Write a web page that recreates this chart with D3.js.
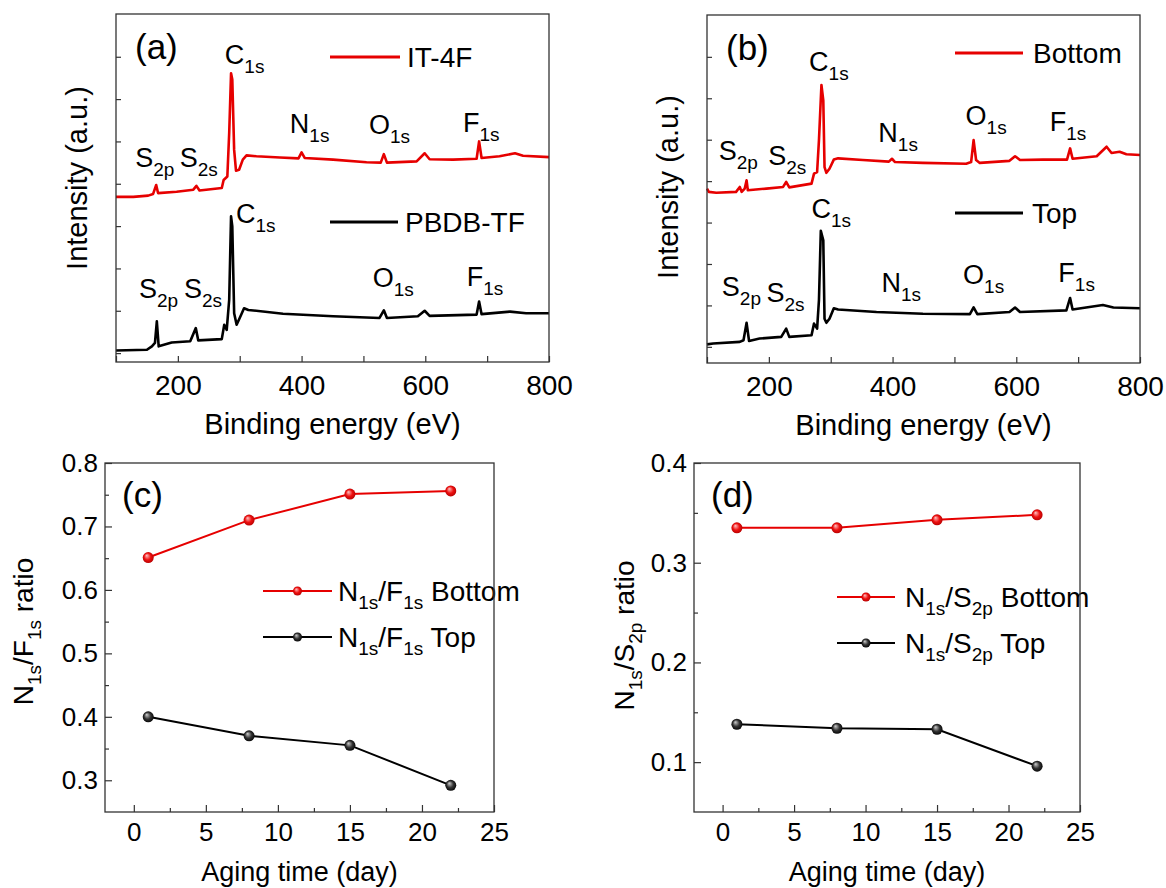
<!DOCTYPE html>
<html>
<head>
<meta charset="utf-8">
<script src="https://cdn.jsdelivr.net/npm/d3@7/dist/d3.min.js"></script>
<style>
  body { margin: 0; background: #fff; }
  svg { font-family: "Liberation Sans", Arial, sans-serif; }
  text { white-space: pre; }
</style>
</head>
<body>
<div id="chart"></div>
<script>
// XPS survey spectra: [binding energy (eV), intensity (a.u.)]
const it4fSpectrum = [[100,3.69],[128,3.69],[152,3.72],[160,3.76],[165,3.97],[168,3.78],[198,3.81],[225,3.86],[230,3.95],[235,3.84],[271,3.90],[274,4.09],[280,4.17],[283,5.20],[286,6.61],[288,6.46],[291,4.80],[294,4.31],[299,4.33],[305,4.57],[311,4.67],[327,4.65],[365,4.62],[395,4.60],[400,4.74],[405,4.61],[451,4.57],[505,4.51],[528,4.50],[533,4.70],[538,4.50],[586,4.53],[599,4.72],[607,4.58],[645,4.57],[683,4.59],[687,5.00],[691,4.61],[720,4.65],[745,4.72],[758,4.66],[800,4.63]];
const pbdbSpectrum = [[100,0.06],[150,0.08],[158,0.16],[163,0.24],[166,0.75],[169,0.16],[190,0.25],[220,0.28],[229,0.59],[233,0.30],[271,0.33],[275,0.67],[279,0.55],[283,1.26],[286,3.23],[288,2.99],[291,0.94],[295,0.67],[300,0.83],[307,1.06],[314,1.02],[370,0.93],[451,0.87],[526,0.83],[533,1.01],[538,0.83],[588,0.87],[599,1.00],[607,0.88],[683,0.91],[687,1.22],[691,0.92],[737,0.98],[763,0.94],[800,0.94]];
const bottomSpectrum = [[100,3.82],[103,3.74],[115,3.72],[147,3.74],[153,3.86],[156,3.74],[161,3.82],[164,4.02],[166,3.78],[196,3.82],[223,3.86],[228,3.98],[233,3.85],[269,3.94],[273,4.18],[278,4.22],[281,4.99],[285,6.32],[288,5.95],[290,4.34],[293,4.20],[298,4.30],[305,4.52],[312,4.55],[352,4.51],[394,4.47],[399,4.54],[404,4.46],[449,4.44],[519,4.42],[527,4.46],[531,4.99],[535,4.51],[541,4.44],[589,4.49],[598,4.60],[606,4.51],[643,4.52],[682,4.52],[687,4.79],[691,4.54],[730,4.60],[746,4.83],[754,4.68],[767,4.71],[778,4.65],[800,4.63]];
const topSpectrum = [[100,0.06],[110,0.08],[153,0.12],[159,0.16],[164,0.58],[168,0.14],[185,0.20],[220,0.24],[228,0.44],[233,0.24],[269,0.28],[273,0.56],[278,0.44],[281,1.13],[284,2.80],[288,2.57],[290,0.68],[293,0.58],[298,0.68],[305,0.93],[312,0.90],[374,0.84],[449,0.80],[525,0.79],[531,0.95],[537,0.79],[589,0.84],[598,0.95],[606,0.84],[681,0.88],[687,1.18],[691,0.90],[740,1.01],[757,0.95],[800,0.93]];

// peak annotations: [element, orbital, energy, intensity]
const it4fPeaks = [["C","1s",276,6.83],["N","1s",381,5.20],["O","1s",509,5.18],["F","1s",661,5.22],["S","2p",131,4.40],["S","2s",203,4.40]];
const pbdbPeaks = [["C","1s",294,3.08],["S","2p",137,1.30],["S","2s",210,1.30],["O","1s",515,1.56],["F","1s",667,1.58]];
const bottomPeaks = [["C","1s",265,6.66],["N","1s",377,4.95],["O","1s",518,5.35],["F","1s",654,5.21],["S","2p",119,4.51],["S","2s",199,4.38]];
const topPeaks = [["C","1s",269,3.12],["N","1s",382,1.33],["O","1s",514,1.51],["F","1s",668,1.57],["S","2p",124,1.22],["S","2s",196,1.09]];

// element ratios vs aging time
const agingDays = [1, 8, 15, 22];
const nfBottom = [0.651, 0.710, 0.751, 0.756];
const nfTop = [0.400, 0.370, 0.355, 0.292];
const nsBottom = [0.335, 0.335, 0.343, 0.348];
const nsTop = [0.138, 0.134, 0.133, 0.096];

// ticks
const energyTicks = [100, 200, 300, 400, 500, 600, 700, 800];
const energyLabels = [200, 400, 600, 800];
const dayTicks = [0, 5, 10, 15, 20, 25];
const dayMinor = [2.5, 7.5, 12.5, 17.5, 22.5];
const nfTicks = [0.3, 0.4, 0.5, 0.6, 0.7, 0.8];
const nfMinor = [0.35, 0.45, 0.55, 0.65, 0.75];
const nsTicks = [0.1, 0.2, 0.3, 0.4];
const nsMinor = [0.15, 0.25, 0.35];

const RED = "#e60000";
const BLACK = "#000";
const FRAME = "#333";

const svg = d3.select("#chart").append("svg")
    .attr("width", 1166)
    .attr("height", 888);

const defs = svg.append("defs");
function ballGradient(id, light, mid, dark) {
    const gr = defs.append("radialGradient").attr("id", id)
        .attr("cx", "50%").attr("cy", "50%").attr("r", "55%")
        .attr("fx", "35%").attr("fy", "30%");
    gr.append("stop").attr("offset", "0%").attr("stop-color", light);
    gr.append("stop").attr("offset", "55%").attr("stop-color", mid);
    gr.append("stop").attr("offset", "100%").attr("stop-color", dark);
}
ballGradient("ball-red", "#ffc4c4", "#ee1010", "#b00000");
ballGradient("ball-black", "#d0d0d0", "#333", "#000");

// text with subscripts; odd entries are subscripts
function richText(text, parts, size, subSize, shift) {
    parts.forEach((p, i) => {
        const sub = i % 2 === 1;
        text.append("tspan")
            .attr("font-size", sub ? subSize : size)
            .attr("dy", i === 0 ? 0 : (sub ? shift : -shift))
            .text(p);
    });
    return text;
}

function styleAxis(axisG, fontSize) {
    axisG.select(".domain").remove();
    axisG.selectAll("line").attr("stroke", FRAME).attr("stroke-width", 1.2);
    axisG.selectAll("text")
        .attr("font-size", fontSize)
        .attr("font-family", "Liberation Sans, Arial, sans-serif")
        .attr("fill", "#000");
}

function spectrumPanel(p) {
    const g = svg.append("g").attr("transform", `translate(${p.left},${p.top})`);
    const x = d3.scaleLinear().domain([100, 800]).range([0, p.width]);
    const y = d3.scaleLinear().domain(p.yDomain).range([p.height, 0]);

    const xAxis = g.append("g")
        .attr("transform", `translate(0,${p.height})`)
        .call(d3.axisBottom(x)
            .tickValues(energyTicks)
            .tickSizeInner(-6).tickSizeOuter(0).tickPadding(13)
            .tickFormat(d => energyLabels.includes(d) ? d : ""));
    styleAxis(xAxis, 28);

    const yAxis = g.append("g")
        .call(d3.axisLeft(y)
            .tickValues(d3.range(0, 8))
            .tickSizeInner(-5).tickSizeOuter(0)
            .tickFormat(""));
    styleAxis(yAxis, 28);

    const line = d3.line().x(d => x(d[0])).y(d => y(d[1]));
    p.series.forEach(s => {
        g.append("path")
            .datum(s.data)
            .attr("d", line)
            .attr("fill", "none")
            .attr("stroke", s.color)
            .attr("stroke-width", 2.6)
            .attr("stroke-linejoin", "round");

        s.peaks.forEach(pk => {
            richText(g.append("text")
                .attr("x", x(pk[2]))
                .attr("y", y(pk[3]))
                .attr("fill", "#000"), [pk[0], pk[1]], 27, 19, 9);
        });

        g.append("line")
            .attr("x1", s.legend[0]).attr("x2", s.legend[1])
            .attr("y1", s.legend[2]).attr("y2", s.legend[2])
            .attr("stroke", s.color).attr("stroke-width", 3);
        g.append("text")
            .attr("x", s.legend[3]).attr("y", s.legend[2] + 10)
            .attr("font-size", 28)
            .text(s.name);
    });

    g.append("rect")
        .attr("width", p.width).attr("height", p.height)
        .attr("fill", "none").attr("stroke", FRAME).attr("stroke-width", 1.3);

    g.append("text")
        .attr("x", 19).attr("y", 45)
        .attr("font-size", 35)
        .text(p.label);

    g.append("text")
        .attr("x", p.width / 2).attr("y", p.height + 72)
        .attr("text-anchor", "middle")
        .attr("font-size", 29)
        .text("Binding energy (eV)");

    g.append("text")
        .attr("transform", `translate(-29,${p.height / 2 + p.titleShift}) rotate(-90)`)
        .attr("text-anchor", "middle")
        .attr("font-size", 29)
        .text("Intensity (a.u.)");
}

function ratioPanel(p) {
    const g = svg.append("g").attr("transform", `translate(${p.left},${p.top})`);
    const x = d3.scaleLinear().domain([-2, 25]).range([0, p.width]);
    const y = d3.scaleLinear().domain(p.yDomain).range([p.height, 0]);

    const xAxis = g.append("g")
        .attr("transform", `translate(0,${p.height})`)
        .call(d3.axisBottom(x).tickValues(dayTicks)
            .tickSizeInner(-7).tickSizeOuter(0).tickPadding(11));
    styleAxis(xAxis, 26);
    const xMinor = g.append("g")
        .attr("transform", `translate(0,${p.height})`)
        .call(d3.axisBottom(x).tickValues(dayMinor)
            .tickSizeInner(-4).tickSizeOuter(0).tickFormat(""));
    styleAxis(xMinor, 26);

    const yAxis = g.append("g")
        .call(d3.axisLeft(y).tickValues(p.ticks)
            .tickSizeInner(-7).tickSizeOuter(0).tickPadding(7)
            .tickFormat(d3.format(".1f")));
    styleAxis(yAxis, 26);
    const yMinor = g.append("g")
        .call(d3.axisLeft(y).tickValues(p.minor)
            .tickSizeInner(-4).tickSizeOuter(0).tickFormat(""));
    styleAxis(yMinor, 26);

    const line = d3.line().x(d => x(d[0])).y(d => y(d[1]));
    p.series.forEach(s => {
        const pts = agingDays.map((d, i) => [d, s.values[i]]);
        g.append("path")
            .datum(pts)
            .attr("d", line)
            .attr("fill", "none")
            .attr("stroke", s.color)
            .attr("stroke-width", 2);
        g.selectAll(null)
            .data(pts)
            .enter()
            .append("circle")
            .attr("cx", d => x(d[0]))
            .attr("cy", d => y(d[1]))
            .attr("r", 5.5)
            .attr("fill", `url(#${s.ball})`);

        const lg = p.legend;
        g.append("line")
            .attr("x1", lg.x0).attr("x2", lg.x1)
            .attr("y1", s.ly).attr("y2", s.ly)
            .attr("stroke", s.color).attr("stroke-width", 2);
        g.append("circle")
            .attr("cx", (lg.x0 + lg.x1) / 2).attr("cy", s.ly)
            .attr("r", 4.5)
            .attr("fill", `url(#${s.ball})`);
        richText(g.append("text")
            .attr("x", lg.tx).attr("y", s.ly + 10), s.name, 28, 19, 8);
    });

    g.append("rect")
        .attr("width", p.width).attr("height", p.height)
        .attr("fill", "none").attr("stroke", FRAME).attr("stroke-width", 1.3);

    g.append("text")
        .attr("x", 17).attr("y", 44)
        .attr("font-size", 35)
        .text(p.label);

    g.append("text")
        .attr("x", p.width / 2).attr("y", p.height + 69)
        .attr("text-anchor", "middle")
        .attr("font-size", 27)
        .text("Aging time (day)");

    richText(g.append("text")
        .attr("transform", `translate(${p.titleX},${p.height / 2 + p.titleShift}) rotate(-90)`)
        .attr("text-anchor", "middle"), p.yTitle, 28, 19, 8);
}

spectrumPanel({
    left: 116, top: 14, width: 433, height: 348,
    yDomain: [-0.21, 8.01], label: "(a)", titleShift: -10,
    series: [
        { name: "IT-4F", data: it4fSpectrum, color: RED, peaks: it4fPeaks, legend: [214, 284, 43, 291] },
        { name: "PBDB-TF", data: pbdbSpectrum, color: BLACK, peaks: pbdbPeaks, legend: [214, 282, 208, 289] }
    ]
});

spectrumPanel({
    left: 707, top: 15, width: 433, height: 348,
    yDomain: [-0.39, 8.01], label: "(b)", titleShift: -2,
    series: [
        { name: "Bottom", data: bottomSpectrum, color: RED, peaks: bottomPeaks, legend: [248, 316, 38, 326] },
        { name: "Top", data: topSpectrum, color: BLACK, peaks: topPeaks, legend: [248, 316, 198, 325] }
    ]
});

ratioPanel({
    left: 105, top: 463, width: 389, height: 349,
    yDomain: [0.25, 0.8], ticks: nfTicks, minor: nfMinor, label: "(c)",
    titleX: -72, titleShift: -6,
    yTitle: ["N", "1s", "/F", "1s", " ratio"],
    legend: { x0: 158, x1: 227, tx: 233 },
    series: [
        { name: ["N", "1s", "/F", "1s", " Bottom"], values: nfBottom, color: RED, ball: "ball-red", ly: 128 },
        { name: ["N", "1s", "/F", "1s", " Top"], values: nfTop, color: BLACK, ball: "ball-black", ly: 174 }
    ]
});

ratioPanel({
    left: 694, top: 463, width: 386, height: 349,
    yDomain: [0.05, 0.4], ticks: nsTicks, minor: nsMinor, label: "(d)",
    titleX: -60, titleShift: -2,
    yTitle: ["N", "1s", "/S", "2p", " ratio"],
    legend: { x0: 143, x1: 201, tx: 211 },
    series: [
        { name: ["N", "1s", "/S", "2p", " Bottom"], values: nsBottom, color: RED, ball: "ball-red", ly: 134 },
        { name: ["N", "1s", "/S", "2p", " Top"], values: nsTop, color: BLACK, ball: "ball-black", ly: 180 }
    ]
});
</script>
</body>
</html>
